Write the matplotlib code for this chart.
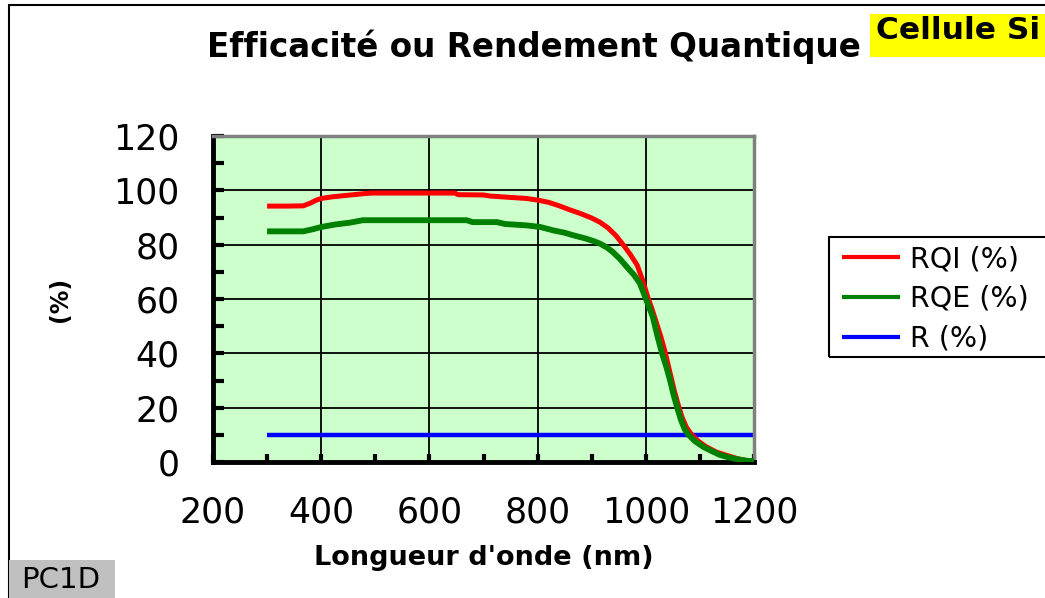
import matplotlib
matplotlib.use("Agg")
import matplotlib.pyplot as plt
from matplotlib.patches import Rectangle
from matplotlib.ticker import MultipleLocator

# Internal quantum efficiency RQI (%) versus wavelength (nm)
wavelength_rqi = [300, 340, 367, 380, 390, 400, 420, 440, 460, 480, 494, 550, 600,
                  647, 653, 700, 712, 749, 780, 800, 820, 840, 860, 880, 900, 915,
                  930, 945, 960, 972, 984, 994, 1004, 1012, 1020, 1028, 1035, 1041,
                  1047, 1053, 1060, 1067, 1075, 1083, 1095, 1110, 1130, 1150, 1170,
                  1185, 1200]
rqi = [94.2, 94.2, 94.3, 95.3, 96.3, 97.0, 97.6, 98.0, 98.4, 98.8, 99.0, 99.0, 99.0,
       99.0, 98.4, 98.3, 97.9, 97.4, 97.0, 96.4, 95.6, 94.3, 92.8, 91.4, 89.8, 88.3,
       86.2, 83.3, 79.5, 76.2, 72.5, 67.0, 60.5, 56.0, 51.0, 46.0, 41.0, 36.0,
       31.0, 26.0, 21.0, 16.5, 12.8, 10.5, 8.0, 5.8, 3.7, 2.4, 1.2, 0.6, 0.3]

# External quantum efficiency RQE (%) versus wavelength (nm)
wavelength_rqe = [300, 340, 367, 385, 400, 425, 453, 477, 500, 669, 680, 725, 740,
                  780, 805, 830, 850, 865, 890, 905, 915, 928, 939, 952, 965, 978,
                  989, 1001, 1013, 1022, 1030, 1038, 1045, 1051, 1058, 1065, 1072,
                  1079, 1090, 1106, 1120, 1137, 1155, 1169, 1185, 1200]
rqe = [84.9, 84.9, 84.9, 85.7, 86.5, 87.4, 88.1, 89.0, 89.0, 89.0, 88.3, 88.3, 87.6,
       87.1, 86.5, 85.2, 84.4, 83.5, 82.2, 81.2, 80.4, 79.0, 77.3, 74.8, 71.8, 68.9,
       65.8, 59.6, 53.4, 46.0, 40.0, 35.0, 30.0, 25.0, 20.0, 15.5, 12.0,
       10.0, 7.8, 5.6, 4.2, 2.6, 1.6, 1.0, 0.5, 0.3]

# Reflectance R (%)
wavelength_r = [300, 1200]
r = [10, 10]

x_ticks = [200, 400, 600, 800, 1000, 1200]
y_ticks = [0, 20, 40, 60, 80, 100, 120]

W, H = 1045, 598
fig = plt.figure(figsize=(W / 100, H / 100), dpi=100)
fig.patch.set_facecolor("white")

ax = fig.add_axes([213 / W, 1 - 462 / H, 541 / W, 326 / H])
ax.set_facecolor("#CCFFCC")

ax.plot(wavelength_r, r, color="#0000FF", lw=3.2, solid_capstyle="butt",
        label="R (%)", zorder=2)
ax.plot(wavelength_rqi, rqi, color="#FF0000", lw=3.6, solid_capstyle="butt",
        label="RQI (%)", zorder=3)
ax.plot(wavelength_rqe, rqe, color="#008000", lw=4.2, solid_capstyle="butt",
        label="RQE (%)", zorder=4)

ax.set_xlim(200, 1200)
ax.set_ylim(0, 120)
ax.set_xticks(x_ticks)
ax.set_yticks(y_ticks)
ax.xaxis.set_minor_locator(MultipleLocator(100))
ax.yaxis.set_minor_locator(MultipleLocator(10))

ax.set_axisbelow(True)
ax.grid(which="major", color="black", lw=1.3)

for side in ("left", "bottom"):
    ax.spines[side].set_color("black")
    ax.spines[side].set_linewidth(3.5)
for side in ("top", "right"):
    ax.spines[side].set_color("#808080")
    ax.spines[side].set_linewidth(2.5)

ax.tick_params(axis="both", which="both", direction="in", color="black",
               width=3, labelsize=25)
ax.tick_params(axis="y", which="both", length=8, pad=24)
ax.tick_params(axis="x", which="both", length=6, pad=24)

ax.set_xlabel("Longueur d'onde (nm)", fontsize=19.5, fontweight="bold", va="center")
ax.xaxis.set_label_coords((484 - 213) / 541, (462 - 558) / 326)
ax.set_ylabel("(%)", fontsize=17, fontweight="bold", va="center")
ax.yaxis.set_label_coords((60 - 213) / 541, (462 - 299) / 326)

# Legend entries (frame drawn separately so it runs off the right edge)
handles, labels = ax.get_legend_handles_labels()
order = [1, 2, 0]
leg = ax.legend([handles[i] for i in order], [labels[i] for i in order],
                loc="upper left", bbox_to_anchor=(842 / W, 1 - 245 / H),
                bbox_transform=fig.transFigure, fontsize=20.5, frameon=False,
                handlelength=2.03, handletextpad=0.35, labelspacing=0.42,
                borderpad=0, borderaxespad=0)
for line in leg.get_lines():
    line.set_linewidth(3.0)
fig.add_artist(Rectangle((829 / W, 1 - 357 / H), 0.3, 120 / H,
                         transform=fig.transFigure, fill=False,
                         edgecolor="black", lw=1.5, clip_on=False))

# Outer chart border
fig.add_artist(Rectangle((9 / W, -0.2), 1.2, 1 - 5 / H + 0.2,
                         transform=fig.transFigure, fill=False,
                         edgecolor="black", lw=1.5, clip_on=False))

# Title and cell label
fig.text(533.5 / W, 1 - 57 / H, "Efficacité ou Rendement Quantique",
         ha="center", va="baseline", fontsize=23.5, fontweight="bold")
fig.add_artist(Rectangle((870 / W, 1 - 57 / H), 0.2, 43 / H,
                         transform=fig.transFigure, facecolor="#FFFF00",
                         edgecolor="none", clip_on=False))
fig.text(876 / W, 1 - 39 / H, "Cellule Si", ha="left", va="baseline",
         fontsize=22.5, fontweight="bold")

# Program tag in the lower-left corner
fig.add_artist(Rectangle((9 / W, -0.02), 106 / W, 38 / H + 0.02,
                         transform=fig.transFigure, facecolor="#C0C0C0",
                         edgecolor="none", clip_on=False))
fig.text(21 / W, 1 - 588 / H, "PC1D", ha="left", va="baseline", fontsize=21)

fig.savefig("out.png", dpi=100)
